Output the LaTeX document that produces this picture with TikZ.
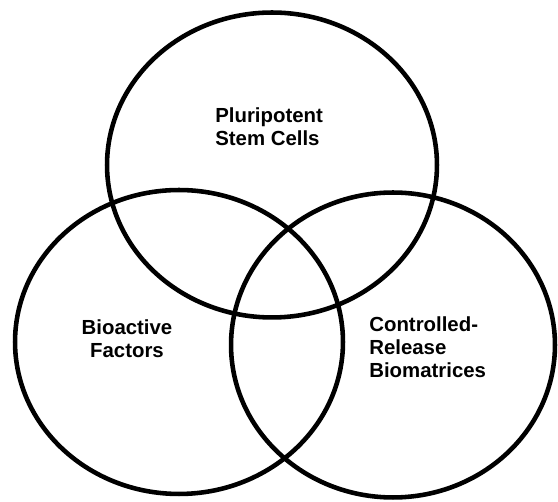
\documentclass[tikz,border=0pt]{standalone}
\usepackage{fontspec}
\setmainfont{Liberation Sans}
\usetikzlibrary{shapes.geometric}

\begin{document}
\begin{tikzpicture}[x=0.02cm,y=-0.02cm,
        set/.style={ellipse, draw, line width=2.6pt, inner sep=0pt},
        lbl/.style={inner sep=0pt, font=\fontsize{11.6}{13.2}\selectfont\bfseries}]
        \useasboundingbox (0,0) rectangle (558,502);

        \node at (272,165) [set, minimum width=6.6cm, minimum height=6.1cm] (stem_set) {};
        \node at (179,342) [set, minimum width=6.56cm, minimum height=6.08cm] (factor_set) {};
        \node at (393,345) [set, minimum width=6.48cm, minimum height=6.1cm] (matrix_set) {};

        \node at (215,107) [lbl, anchor=north west, align=left] (stem) {Pluripotent\\Stem Cells};
        \node at (127,319) [lbl, anchor=north, align=center] (factor) {Bioactive\\Factors};
        \node at (369,316) [lbl, anchor=north west, align=left] (matrix) {Controlled-\\Release\\Biomatrices};
    \end{tikzpicture}
\end{document}
